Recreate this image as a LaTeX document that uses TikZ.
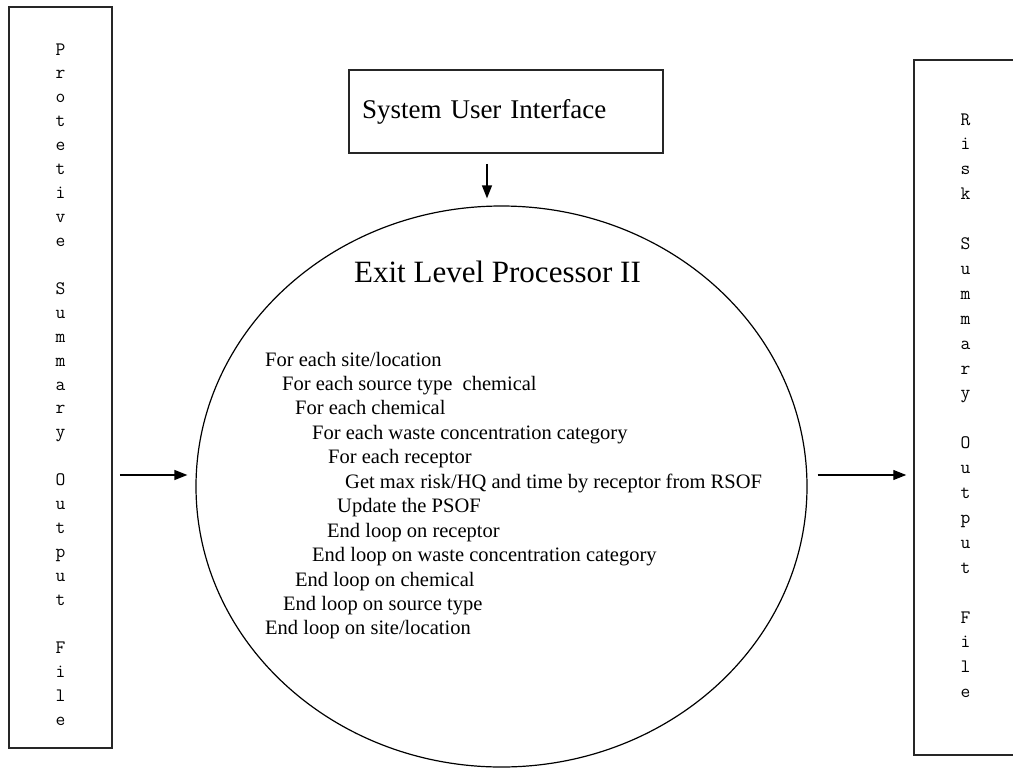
\documentclass[tikz,border=0pt]{standalone}
\usepackage{fontspec}
\setmainfont{Liberation Serif}
\usetikzlibrary{arrows.meta,shapes.geometric}
\begin{document}
\begin{tikzpicture}[x=1pt,y=1pt,
  boxln/.style={draw=black!85,line width=1.5pt},
  filebox/.style={boxln,rectangle,minimum width=103pt,inner sep=0pt},
  vletter/.style={font=\ttfamily\fontsize{19}{19}\selectfont,anchor=base,inner sep=0pt},
  looptxt/.style={font=\fontsize{20.5}{21}\selectfont,anchor=base west,inner sep=0pt},
  arr/.style={line width=1.3pt,-{Triangle[length=13pt,width=10pt]}}]
\clip (0,0) rectangle (1013,-772);
\fill[white] (0,0) rectangle (1013,-772);
% file boxes
\node[filebox,minimum height=741pt] (lbox) at (60.5,-377.5) {};
\node[filebox,minimum height=695pt] (rbox) at (965.5,-407.5) {};
% vertical letters
\foreach \c [count=\i from 0] in {P,r,o,t,e,t,i,v,e,{},S,u,m,m,a,r,y,{},O,u,t,p,u,t,{},F,i,l,e}
  \node[vletter] (pl\i) at (60.5,{-55-23.93*\i}) {\c};
\foreach \c [count=\i from 0] in {R,i,s,k,{},S,u,m,m,a,r,y,{},O,u,t,p,u,t,{},F,i,l,e}
  \node[vletter] (rl\i) at (965.5,{-125-24.9*\i}) {\c};
% system user interface
\node[boxln,rectangle,minimum width=314pt,minimum height=83pt,text width=288pt,
  inner xsep=13pt,align=left,font=\fontsize{27}{30}\selectfont] (sui) at (506,-111.5) {System User Interface};
% processor ellipse
\node[draw=black,line width=1.2pt,ellipse,minimum width=611pt,minimum height=561pt,inner sep=0pt] (ell) at (501.5,-486.5) {};
\node[font=\fontsize{31}{34}\selectfont,anchor=base,inner sep=0pt] (title) at (497.5,-282) {Exit Level Processor II};
% loop text
\node[looptxt] (t1) at (265,-366) {For each site/location};
\node[looptxt] (t2) at (282,{-366-24.45*1}) {For each source type\ \ chemical};
\node[looptxt] (t3) at (295,{-366-24.45*2}) {For each chemical};
\node[looptxt] (t4) at (312,{-366-24.45*3}) {For each waste concentration category};
\node[looptxt] (t5) at (328,{-366-24.45*4}) {For each receptor};
\node[looptxt] (t6) at (345,{-366-24.45*5}) {Get max risk/HQ and time by receptor from RSOF};
\node[looptxt] (t7) at (337,{-366-24.45*6}) {Update the PSOF};
\node[looptxt] (t8) at (327,{-366-24.45*7}) {End loop on receptor};
\node[looptxt] (t9) at (312,{-366-24.45*8}) {End loop on waste concentration category};
\node[looptxt] (t10) at (295,{-366-24.45*9}) {End loop on chemical};
\node[looptxt] (t11) at (283,{-366-24.45*10}) {End loop on source type};
\node[looptxt] (t12) at (265,{-366-24.45*11}) {End loop on site/location};
% connectors
\coordinate (ax) at (487,0);
\coordinate (ay) at (0,-475);
\draw[arr,shorten <=10pt,shorten >=7pt] (sui.south -| ax) -- (ell.north -| ax);
\draw[arr,shorten <=7pt,shorten >=8pt] (lbox.east |- ay) -- (ell.west |- ay);
\draw[arr,shorten <=10pt,shorten >=7pt] (ell.east |- ay) -- (rbox.west |- ay);
\end{tikzpicture}
\end{document}
